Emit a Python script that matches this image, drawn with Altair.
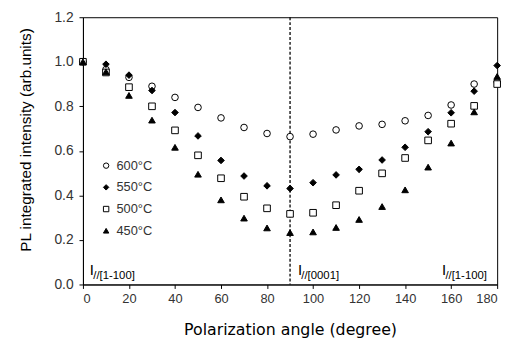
import altair as alt
import pandas as pd

angles = [0, 10, 20, 30, 40, 50, 60, 70, 80, 90, 100, 110, 120, 130, 140, 150, 160, 170, 180]
s600 = [1.0, 0.965, 0.93, 0.89, 0.84, 0.795, 0.748, 0.705, 0.678, 0.664, 0.675, 0.694, 0.712, 0.719, 0.735, 0.759, 0.806, 0.90, 0.91]
s550 = [1.0, 0.989, 0.94, 0.871, 0.772, 0.667, 0.557, 0.487, 0.443, 0.431, 0.457, 0.492, 0.517, 0.559, 0.616, 0.686, 0.771, 0.868, 0.983]
s500 = [1.0, 0.952, 0.886, 0.80, 0.692, 0.58, 0.477, 0.394, 0.342, 0.317, 0.322, 0.356, 0.421, 0.499, 0.568, 0.647, 0.722, 0.802, 0.90]
s450 = [1.0, 0.955, 0.849, 0.738, 0.616, 0.495, 0.38, 0.298, 0.254, 0.233, 0.236, 0.256, 0.292, 0.35, 0.425, 0.527, 0.635, 0.775, 0.934]
series_names = ["600°C", "550°C", "500°C", "450°C"]
series_vals = [s600, s550, s500, s450]

rows = []
for name, vals in zip(series_names, series_vals):
    for a, v in zip(angles, vals):
        rows.append({"angle": a, "value": v, "series": name})
df = pd.DataFrame(rows)

FONT = "Liberation Sans"
TXT = "#333333"

xscale = alt.Scale(domain=[0, 180], nice=False, zero=False)
yscale = alt.Scale(domain=[0, 1.2], nice=False)

xaxis = alt.Axis(values=list(range(0, 181, 10)),
                 labelExpr="datum.value % 20 == 0 ? datum.label : ''",
                 title="Polarization angle (degree)", grid=False,
                 domainColor="black", tickColor="black", tickSize=4,
                 labelFont=FONT, labelFontSize=13, labelColor=TXT, labelPadding=4,
                 titleFont="DejaVu Sans", titleFontSize=16, titleFontWeight="normal",
                 titleColor="black", titlePadding=17)
yaxis = alt.Axis(values=[round(i * 0.1, 1) for i in range(13)],
                 labelExpr="round(datum.value*10) % 2 == 0 ? format(datum.value, '.1f') : ''",
                 title="PL  integrated intensity (arb.units)", grid=False,
                 domainColor="black", tickColor="black", tickSize=4,
                 labelFont=FONT, labelFontSize=14, labelColor=TXT, labelPadding=6,
                 titleFont=FONT, titleFontSize=15.5, titleFontWeight="normal",
                 titleColor="black", titlePadding=21, titleY=124)

points = alt.Chart(df).mark_point(size=45, strokeWidth=1, opacity=1, stroke="black").encode(
    x=alt.X("angle:Q", scale=xscale, axis=xaxis),
    y=alt.Y("value:Q", scale=yscale, axis=yaxis),
    shape=alt.Shape("series:N", sort=series_names,
                    scale=alt.Scale(domain=series_names,
                                    range=["circle", "diamond", "square", "triangle-up"]),
                    legend=alt.Legend(title=None, orient="none", legendX=17, legendY=144,
                                      labelFont=FONT, labelFontSize=13, labelColor=TXT,
                                      symbolSize=30, rowPadding=8, symbolStrokeWidth=1)),
    fill=alt.Fill("series:N", sort=series_names,
                  scale=alt.Scale(domain=series_names,
                                  range=["white", "black", "white", "black"]),
                  legend=None),
)

vline = alt.Chart(pd.DataFrame({"x": [90]})).mark_rule(
    color="black", strokeDash=[3, 2], strokeWidth=1.3).encode(x="x:Q")

ann = pd.DataFrame({
    "x": [3.0, 93.4, 156.0],
    "y": [0.044, 0.044, 0.044],
    "big": ["I", "I", "I"],
    "sub": ["//[1-100]", "//[0001]", "//[1-100]"],
})
big = alt.Chart(ann).mark_text(font=FONT, fontSize=15, align="left", baseline="alphabetic",
                               color="black").encode(
    x=alt.X("x:Q", scale=xscale), y=alt.Y("y:Q", scale=yscale), text="big:N")
sub = alt.Chart(ann).mark_text(font=FONT, fontSize=11.5, align="left", baseline="alphabetic",
                               color="black", dx=3.5, dy=4).encode(
    x=alt.X("x:Q", scale=xscale), y=alt.Y("y:Q", scale=yscale), text="sub:N")

chart = alt.layer(vline, points, big, sub).properties(
    width=420, height=271,
    padding={"left": 10, "top": 0, "right": 5, "bottom": 5}
).configure_view(stroke="black", strokeWidth=1)

chart.save("out.html", embed_options={"renderer": "svg", "actions": False})
